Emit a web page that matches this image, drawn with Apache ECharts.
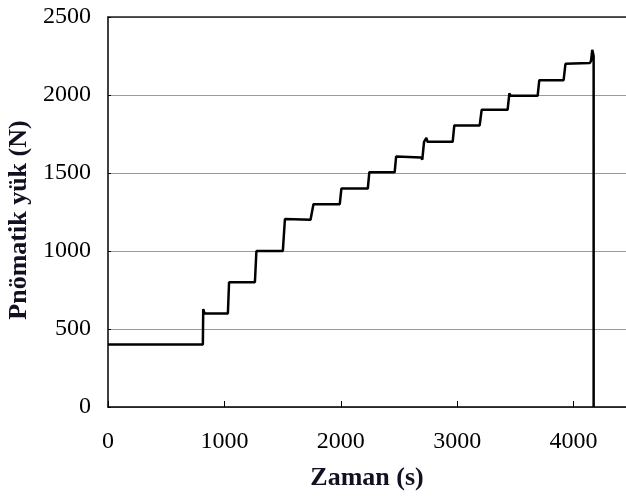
<!DOCTYPE html>
<html>
<head>
<meta charset="utf-8">
<script src="https://cdn.jsdelivr.net/npm/echarts@6/dist/echarts.min.js"></script>
<style>
  html, body { margin: 0; padding: 0; background: #fff; }
  #chart { width: 626px; height: 498px; }
</style>
</head>
<body>
<div id="chart"></div>
<script>
// Step-loading record: time (s) and pneumatic load (N)
const timeSec = [
  0, 815, 818, 830, 1030,
  1040, 1262,
  1275, 1285, 1295, 1502,
  1520, 1740, 1750,
  1765, 1991,
  2005, 2232,
  2245, 2250, 2260, 2463,
  2475, 2690, 2700,
  2715, 2735, 2745, 2961,
  2975, 3193,
  3210, 3433,
  3448, 3460, 3691,
  3705, 3914,
  3930, 4140, 4150, 4160, 4172, 4172
];
const loadN = [
  400, 400, 628, 600, 600,
  800, 800,
  1000, 1010, 1000, 1000,
  1205, 1200, 1190,
  1300, 1300,
  1400, 1400,
  1505, 1515, 1505, 1505,
  1605, 1600, 1585,
  1700, 1725, 1700, 1700,
  1805, 1805,
  1905, 1905,
  2010, 1995, 1995,
  2095, 2095,
  2200, 2205, 2220, 2290, 2250, 0
];
const xTicks = [0, 1000, 2000, 3000, 4000];
const yTicks = [0, 500, 1000, 1500, 2000, 2500];

const serif = '"Liberation Serif", "Times New Roman", serif';
const series = timeSec.map((t, i) => [t, loadN[i]]);

const chart = echarts.init(document.getElementById('chart'));
chart.setOption({
  animation: false,
  backgroundColor: '#fff',
  grid: { left: 108, top: 17, right: 0, bottom: 91, containLabel: false, outerBoundsMode: 'none' },
  xAxis: [{
    type: 'value',
    min: 0, max: 4450, interval: 1000,
    name: 'Zaman (s)',
    nameLocation: 'middle',
    nameGap: 58,
    nameTextStyle: { fontFamily: serif, fontWeight: 'bold', fontSize: 26, color: '#111122' },
    axisLine: { show: true, lineStyle: { color: '#000', width: 1.5 } },
    axisTick: { show: true, inside: true, length: 6, lineStyle: { color: '#000' } },
    axisLabel: {
      fontFamily: serif, fontSize: 24, color: '#000', margin: 23,
      showMaxLabel: false,
      formatter: v => xTicks.includes(v) ? String(v) : ''
    },
    splitLine: { show: false }
  }, {
    type: 'value',
    position: 'top',
    min: 0, max: 4450,
    axisLine: { show: true, lineStyle: { color: '#222', width: 1.5 } },
    axisTick: { show: false },
    axisLabel: { show: false },
    splitLine: { show: false }
  }],
  yAxis: {
    type: 'value',
    min: 0, max: 2500, interval: 500,
    name: 'Pnömatik yük (N)',
    nameLocation: 'middle',
    nameGap: 72,
    nameTextStyle: { fontFamily: serif, fontWeight: 'bold', fontSize: 26, color: '#111122', padding: [0, 16, 0, 0] },
    axisLine: { show: true, lineStyle: { color: '#000', width: 1.5 } },
    axisTick: { show: true, inside: true, length: 3, lineStyle: { color: '#000' } },
    axisLabel: {
      fontFamily: serif, fontSize: 24, color: '#000', margin: 17,
      formatter: v => yTicks.includes(v) ? String(v) : ''
    },
    splitLine: { show: true, lineStyle: { color: '#9a9a9a', width: 1 } }
  },
  series: [{
    type: 'line',
    data: series,
    showSymbol: false,
    symbol: 'none',
    lineStyle: { color: '#000', width: 2.5 }
  }]
});
</script>
</body>
</html>
